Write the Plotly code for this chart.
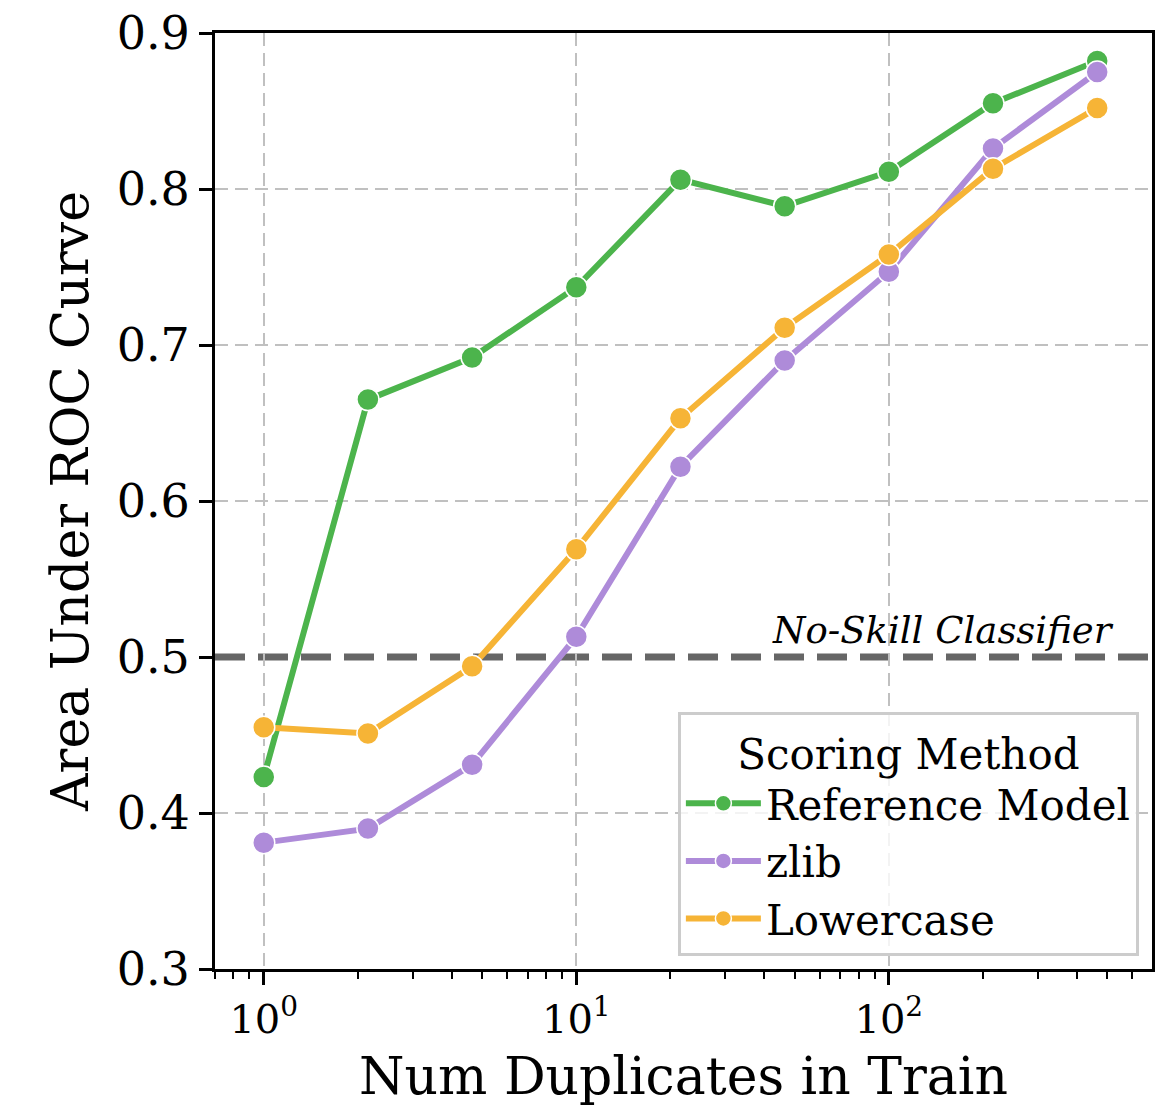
import plotly.graph_objects as go

num_duplicates = [1, 2.154, 4.642, 10, 21.54, 46.42, 100, 215.4, 464.2]
reference_model = [0.423, 0.665, 0.692, 0.737, 0.806, 0.789, 0.811, 0.855, 0.882]
zlib_scores = [0.381, 0.390, 0.431, 0.513, 0.622, 0.690, 0.747, 0.826, 0.875]
lowercase_scores = [0.455, 0.451, 0.494, 0.569, 0.653, 0.711, 0.758, 0.813, 0.852]

series_names = ["Reference Model", "zlib", "Lowercase"]
series_colors = ["#4cb44c", "#ae8bd9", "#f6b436"]
no_skill = 0.5

x_tick_vals = [1, 10, 100]
x_tick_text = ["10<sup>0</sup>", "10<sup>1</sup>", "10<sup>2</sup>"]
y_tick_vals = [0.3, 0.4, 0.5, 0.6, 0.7, 0.8, 0.9]
y_grid_vals = [0.4, 0.6, 0.7, 0.8]
minor_vals = [k * 10 ** d for d in (-1, 0, 1, 2) for k in range(2, 10)]

FONT = "DejaVu Serif"

fig = go.Figure()
for name, vals, col in zip(series_names, [reference_model, zlib_scores, lowercase_scores], series_colors):
    fig.add_trace(go.Scatter(
        x=num_duplicates, y=vals, name=name, mode="lines+markers",
        line=dict(color=col, width=6),
        marker=dict(color=col, size=22, line=dict(color="white", width=1.5)),
    ))

fig.add_shape(type="line", xref="paper", x0=0, x1=1, yref="y", y0=no_skill, y1=no_skill,
              line=dict(color="#666666", width=7, dash="30px,13px"), layer="below")
fig.add_annotation(text="<i>No-Skill Classifier</i>", xref="paper", x=0.962, xanchor="right",
                   yref="y", y=no_skill, yanchor="bottom", yshift=3, showarrow=False,
                   font=dict(family=FONT, size=37, color="black"))

fig.update_layout(
    width=1158, height=1110,
    margin=dict(l=215, r=3, t=33, b=141),
    paper_bgcolor="white", plot_bgcolor="white",
    font=dict(family=FONT, color="black"),
    showlegend=True,
    legend=dict(
        x=0.986, xanchor="right", y=0.014, yanchor="bottom",
        bgcolor="rgba(255,255,255,0.8)", bordercolor="#cccccc", borderwidth=3,
        font=dict(family=FONT, size=42, color="black"),
        title=dict(text="Scoring Method", side="top center", font=dict(family=FONT, size=42)),
        itemwidth=75,
    ),
)

fig.update_xaxes(
    type="log", range=[-0.156, 2.842],
    tickmode="array", tickvals=x_tick_vals, ticktext=x_tick_text,
    tickfont=dict(family=FONT, size=40), ticks="outside", ticklen=13, tickwidth=2.5, tickcolor="black",
    showline=True, linecolor="black", linewidth=3, mirror=True,
    showgrid=True, gridcolor="#c0c0c0", gridwidth=2, griddash="13px,7px",
    minor=dict(tickmode="array", tickvals=minor_vals, ticks="outside", ticklen=7, tickwidth=2,
               tickcolor="black", showgrid=False),
    title=dict(text="Num Duplicates in Train", font=dict(family=FONT, size=52), standoff=17),
    zeroline=False,
)
fig.update_yaxes(
    range=[0.3, 0.9], tickmode="array", tickvals=y_tick_vals,
    ticktext=[f"{v:.1f}" for v in y_tick_vals],
    tickfont=dict(family=FONT, size=46), ticks="outside", ticklen=13, tickwidth=2.5, tickcolor="black",
    showline=True, linecolor="black", linewidth=3, mirror=True,
    showgrid=False,
    minor=dict(tickmode="array", tickvals=y_grid_vals, ticks="", showgrid=True,
               gridcolor="#c0c0c0", gridwidth=2, griddash="13px,7px"),
    title=dict(text="Area Under ROC Curve", font=dict(family=FONT, size=52), standoff=12),
    zeroline=False,
)

fig.write_html("out.html")
